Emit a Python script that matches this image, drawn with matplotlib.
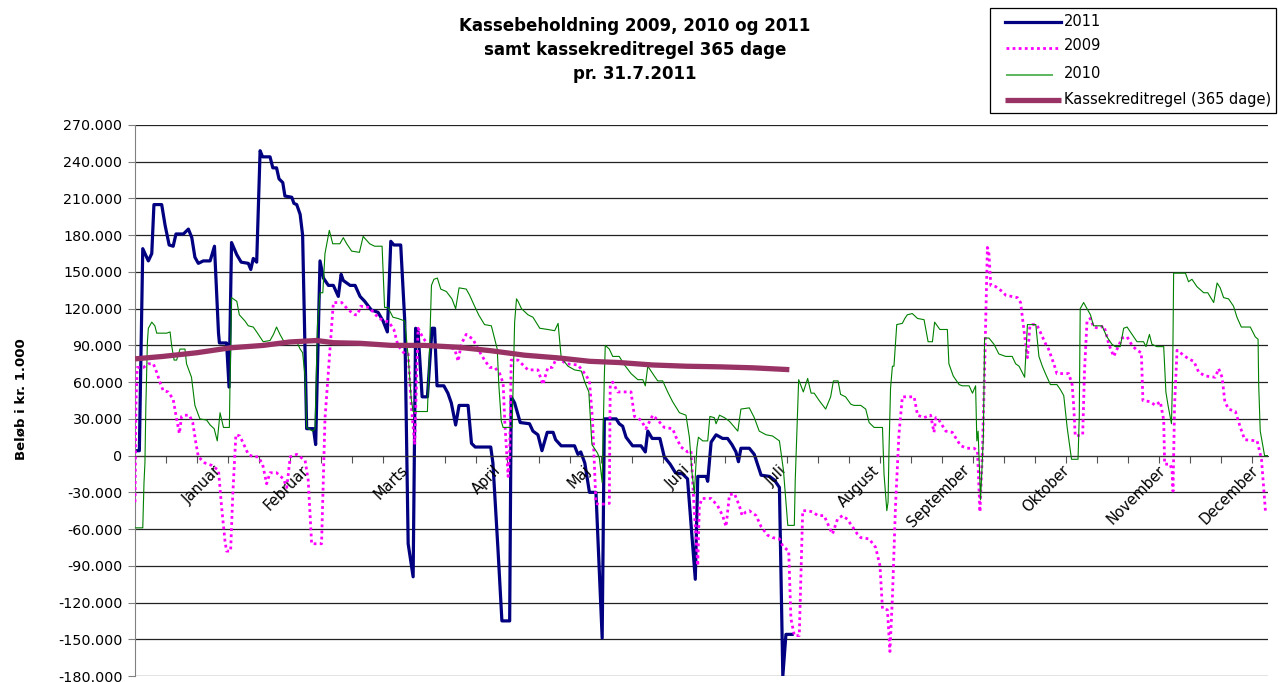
import matplotlib
matplotlib.use('Agg')
import matplotlib.pyplot as plt
import matplotlib.transforms as mtransforms
from matplotlib.lines import Line2D
from matplotlib.patches import Rectangle
from matplotlib.ticker import FuncFormatter, MultipleLocator

# kassebeholdning (day of year, kr. 1.000)
days_2011 = [0, 1.4, 2.5, 4.3, 5.4, 6.1, 8.6, 9.7, 11, 12.3,
             13.2, 15.6, 17.2, 18.3, 19.3, 20.4, 22, 24.2, 25.6, 26.9,
             27.2, 29.5, 30.3, 31.1, 32.8, 34.2, 36.5, 37.3, 38.1, 39.2,
             40.3, 41.1, 43.5, 44.4, 45.6, 46.4, 47.6, 48.3, 50.5, 51.2,
             52.1, 53.2, 54, 55.3, 57.5, 58.2, 59.6, 60.7, 62.3, 63.9,
             65.5, 66.4, 67.1, 69.3, 70.9, 72.5, 74, 76.1, 78.3, 79.9,
             81.3, 82.4, 83.4, 85.6, 86.9, 88, 89.6, 90.4, 91.2, 92.5,
             94.2, 95.7, 96.5, 97.3, 99.5, 100.8, 101.9, 103.3, 104.4, 107.3,
             108.4, 109.6, 114.6, 115.3, 116.9, 118.2, 120.7, 121.2, 122.3, 124.1,
             127.1, 128.2, 129.8, 131.1, 132.8, 134.7, 135.5, 137.3, 141.6, 142.7,
             143.6, 144.9, 146.4, 148.5, 150.5, 151.2, 155, 156, 157.1, 158.2,
             160.3, 163, 164.4, 165.2, 166.6, 169.1, 170.5, 172.4, 174.1, 176.4,
             178, 180.5, 181.3, 184, 184.5, 185.6, 187.2, 189.3, 190.9, 192.3,
             193.6, 194.4, 195.2, 197.9, 199.5, 200.9, 201.7, 204.4, 206, 207.6,
             208.7, 209.7, 211.7]
kasse_2011 = [4, 4, 169, 159, 165, 205, 205, 188, 172, 171,
              181, 181, 185, 178, 162, 157, 159, 159, 171, 100,
              92, 92, 56, 174, 164, 158, 157, 152, 161, 158,
              249, 244, 244, 235, 235, 226, 223, 212, 211, 206,
              205, 197, 180, 22, 22, 9, 159, 145, 139, 139,
              130, 148, 143, 139, 139, 130, 126, 119, 117, 110,
              101, 175, 172, 172, 110, -72, -99, 104, 101, 48,
              48, 104, 104, 57, 57, 51, 43, 25, 41, 41,
              10, 7, 7, -6, -75, -135, -135, 48, 43, 27,
              26, 20, 17, 4, 19, 19, 13, 8, 8, 1,
              3, -6, -30, -30, -149, 30, 30, 26, 24, 15,
              8, 8, 3, 20, 14, 14, -1, -7, -14, -15,
              -19, -101, -17, -17, -21, 11, 17, 14, 14, 9,
              3, -5, 6, 6, 1, -10, -16, -17, -20, -26,
              -180, -146, -146]

days_2009 = [0, 0.3, 0.7, 2.7, 4.3, 5.9, 7, 8.3, 9.1, 10.7,
             12.3, 13.4, 14.3, 15, 15.8, 17.5, 18.6, 19.7, 20.4, 22.5,
             24.7, 26.9, 27.9, 29, 29.5, 30.8, 31.5, 32.5, 33.8, 34.9,
             36.5, 38.1, 39.7, 41.1, 42.4, 43.5, 45.6, 47.8, 48.9, 50,
             52.1, 53.2, 54.8, 55.8, 56.9, 60.1, 61.2, 62.8, 63.9, 66.6,
             68.7, 70.9, 71.7, 72.7, 75.4, 78.6, 81.8, 83.4, 84.7, 86.9,
             88, 89, 90.1, 91.2, 92.8, 94.4, 96.5, 98.7, 100.8, 103,
             104.1, 105.1, 106.7, 108.9, 110.5, 112.6, 114.3, 115.9, 117.5, 118.6,
             119.1, 120.2, 120.7, 121.2, 123.4, 125, 126.6, 129.8, 131.4, 133,
             134.4, 135.7, 137.3, 138.9, 142.7, 144.9, 146.4, 147.4, 148.5, 149.6,
             152.8, 153.1, 153.9, 155.5, 159.8, 160.9, 163, 164.6, 166.8, 168.4,
             170.5, 173.2, 174.3, 175.9, 178, 179.1, 180.2, 181.3, 181.8, 182.7,
             185.6, 187.7, 189.3, 190.4, 191.5, 193.1, 194.7, 195.6, 196.8, 197.9,
             200.1, 201.7, 203.8, 205.4, 207.6, 208.7, 210.6, 211.3, 212.4, 214,
             215.1, 216.7, 218.3, 220, 222, 224.1, 224.7, 226.3, 227.9, 229.5,
             232.7, 233.8, 236.5, 238.6, 240, 240.8, 242.4, 243.2, 244, 245,
             246.1, 247.2, 251, 252.1, 254.2, 256.3, 257.4, 258, 259, 261.2,
             263.3, 266, 268.1, 270.3, 271.4, 272.2, 273, 273.7, 274.4, 274.6,
             275.1, 275.7, 277.3, 279.4, 280.5, 284.3, 285.3, 286.4, 287.5, 288.3,
             289.1, 290.5, 291.8, 293.4, 294.3, 296, 297, 300.8, 301.9, 302.4,
             302.9, 305.3, 305.9, 306.7, 307.8, 308.8, 310.5, 312.1, 312.6, 313.7,
             315.3, 316.9, 318, 319.6, 321.2, 322.8, 324.2, 324.7, 327.1, 328.7,
             330.3, 331.4, 331.7, 333.5, 334.1, 334.4, 334.9, 335.7, 337.3, 339.4,
             341.1, 342.7, 344.8, 348, 349.1, 350.2, 351.1, 352.3, 354.5, 356.1,
             357.5, 361.5, 362.9, 364.2]
kasse_2009 = [-38, 41, 72, 72, 75, 75, 68, 58, 53, 52,
              46, 30, 18, 32, 33, 33, 27, 9, -1, -6,
              -8, -12, -42, -70, -78, -78, -32, 17, 16, 10,
              1, -1, -1, -7, -23, -14, -14, -19, -26, -1,
              1, -1, -4, -20, -72, -72, 30, 87, 125, 125,
              119, 115, 115, 122, 121, 112, 109, 103, 90, 83,
              83, 41, 9, 104, 96, 91, 90, 90, 89, 87,
              77, 91, 99, 95, 87, 78, 72, 72, 67, 59,
              29, -17, 0, 78, 78, 74, 70, 70, 58, 72,
              72, 79, 78, 75, 74, 67, 61, 29, -39, -40,
              -39, 58, 60, 52, 52, 32, 29, 22, 33, 29,
              23, 22, 15, 7, 3, 4, -46, -90, -41, -35,
              -35, -41, -49, -58, -32, -31, -41, -49, -46, -45,
              -49, -58, -65, -67, -68, -74, -78, -133, -147, -147,
              -45, -45, -46, -49, -49, -61, -64, -52, -49, -52,
              -64, -67, -68, -75, -90, -125, -126, -160, -116, -41,
              17, 48, 48, 33, 31, 33, 19, 31, 29, 20,
              19, 8, 6, 6, 4, -46, 3, 70, 151, 170,
              165, 139, 138, 134, 131, 129, 125, 102, 80, 106,
              107, 107, 100, 91, 87, 75, 67, 67, 58, 41,
              16, 17, 70, 110, 112, 105, 104, 106, 102, 91,
              81, 90, 96, 97, 90, 86, 84, 45, 44, 41,
              44, 29, -7, -7, -13, -29, 41, 86, 83, 79,
              77, 68, 65, 64, 71, 64, 44, 38, 36, 23,
              13, 12, -3, -46]

days_2010 = [0, 2.5, 2.9, 3.2, 3.5, 4, 4.3, 5.4, 6.4, 7,
             10.2, 11.3, 11.8, 12.6, 13.4, 14.5, 16.1, 16.6, 18.2, 19.3,
             20.9, 23.1, 24.2, 25.5, 26.5, 27.4, 28.5, 30.4, 30.6, 31.1,
             32.8, 33.6, 35.4, 36.5, 38.1, 39.2, 40.5, 41.3, 43.5, 44.6,
             45.6, 46.7, 47.8, 52.1, 53.2, 54, 54.8, 55.3, 57.2, 58,
             58.8, 59.6, 60.5, 61.2, 62.6, 63.7, 66, 67.1, 68.2, 69.8,
             72.3, 73.5, 75.6, 77.2, 79.6, 80.2, 80.4, 81.5, 83.1, 84.7,
             86.9, 88, 89, 89.6, 94.2, 94.9, 95.5, 96.3, 97.4, 98.5,
             100.3, 102.1, 103.3, 104.4, 106.7, 107.8, 109.4, 110.7, 112.6, 114.8,
             116.7, 117.2, 118, 118.6, 121.5, 122.3, 122.9, 123.4, 124.5, 126.6,
             128.2, 130.4, 133, 135.2, 136.3, 137.3, 139.5, 141.6, 143.8, 144.9,
             146.2, 146.9, 147.2, 149, 149.6, 150.5, 150.9, 151.2, 151.5, 152.8,
             153.9, 156, 157.7, 159.8, 162, 163.6, 164.4, 165.2, 167.3, 168.4,
             170, 171.6, 173.2, 175.4, 177.5, 178.6, 179.4, 180.2, 181, 181.5,
             182.9, 184.5, 185.2, 186.6, 187.2, 188.3, 189.9, 191.5, 194.2, 195.2,
             197.9, 199.5, 201.1, 203.3, 205.4, 207.6, 208.9, 210.3, 212.4, 212.7,
             213.2, 213.8, 215.3, 216.7, 217.8, 218.8, 220.4, 222.5, 224.1, 225,
             226.5, 227.3, 228.9, 230.6, 231.6, 233.8, 235.4, 236.5, 238.1, 240.8,
             241.3, 242.2, 242.6, 242.9, 243.4, 244, 244.5, 245.4, 247.2, 248,
             248.8, 250.4, 252.1, 254.2, 255.5, 256.9, 257.6, 259.3, 261.7, 262.2,
             263.6, 265.5, 266.5, 268.7, 269.8, 270.8, 271.2, 271.6, 272.4, 273.3,
             273.7, 275.1, 276.7, 278.3, 280.5, 282.6, 283.7, 284.8, 286.6, 287.5,
             290.2, 291.2, 292.3, 293.3, 294.9, 297, 298.1, 299.2, 300.3, 301.7,
             303.8, 304.2, 304.5, 305.6, 307.8, 308.8, 311.5, 313.1, 314.7, 315.8,
             317.4, 318.5, 319.6, 321.2, 322.8, 324.9, 325.7, 326.8, 327.6, 329.2,
             331.4, 332.1, 332.8, 333.9, 334.3, 334.6, 338.4, 339.4, 340.5, 342.1,
             344.3, 345.6, 347.5, 348.6, 349.6, 350.7, 352.3, 353.9, 355, 356.4,
             359.3, 360.9, 361.8, 362, 362.5, 363.9, 364.9]
kasse_2010 = [-59, -59, -22, -6, 41, 93, 104, 109, 106, 100,
              100, 101, 90, 78, 78, 87, 87, 75, 64, 41,
              30, 29, 25, 22, 12, 35, 23, 23, 58, 129,
              126, 115, 110, 106, 105, 101, 96, 93, 94, 99,
              105, 99, 94, 93, 87, 84, 64, 23, 20, 22,
              107, 133, 133, 165, 184, 173, 173, 178, 173, 167,
              166, 179, 173, 171, 171, 133, 121, 121, 113, 112,
              110, 81, 46, 36, 36, 87, 139, 144, 145, 136,
              134, 128, 120, 137, 136, 131, 122, 115, 107, 106,
              87, 58, 28, 23, 23, 109, 128, 126, 120, 115,
              113, 104, 103, 102, 108, 80, 73, 70, 69, 60,
              52, 22, 9, 2, -2, -22, 26, 65, 90, 87,
              81, 81, 74, 67, 62, 62, 57, 73, 65, 61,
              61, 52, 44, 35, 33, 15, -13, -31, 6, 15,
              12, 12, 32, 31, 26, 33, 31, 28, 20, 38,
              39, 31, 20, 17, 16, 12, -12, -57, -57, -20,
              17, 62, 52, 63, 51, 51, 45, 38, 48, 61,
              61, 50, 48, 42, 41, 41, 38, 27, 23, 23,
              -15, -45, -38, 4, 55, 73, 73, 107, 108, 112,
              115, 116, 112, 111, 93, 93, 109, 103, 103, 75,
              65, 58, 57, 57, 51, 57, 12, 20, -36, 15,
              96, 96, 91, 83, 81, 81, 75, 73, 64, 107,
              107, 81, 73, 67, 58, 58, 54, 49, 23, -3,
              -3, 32, 120, 125, 115, 106, 106, 97, 91, 89,
              89, 104, 105, 99, 93, 93, 89, 99, 91, 89,
              89, 52, 41, 26, 70, 149, 149, 142, 144, 138,
              133, 133, 125, 141, 137, 129, 128, 122, 113, 105,
              105, 97, 95, 58, 20, 0, 0]

days_regel = [0, 9, 19.9, 30.6, 41.3, 49.9, 58.5, 63.9, 72.5, 82.6,
              93.3, 104.1, 114.8, 125.5, 136.3, 146.5, 156, 166.8, 177.5, 188.3,
              199, 210.8]
kassekreditregel = [79, 81, 84, 88, 90, 92.8, 94, 92.2, 91.7, 90,
                    90, 88.5, 85.6, 82, 79.8, 77, 76, 74, 73, 72.5,
                    71.7, 70.2]

months = ['Januar', 'Februar', 'Marts', 'April', 'Maj', 'Juni', 'Juli',
          'August', 'September', 'Oktober', 'November', 'December']
month_pos = [27, 55, 87, 117, 146, 178, 209, 239, 268, 300, 331, 361]

series = [('2011', days_2011, kasse_2011, dict(color='#000080', lw=2.3)),
          ('2009', days_2009, kasse_2009, dict(color='#ff00ff', lw=2.0, ls=(0, (1, 1.2)))),
          ('2010', days_2010, kasse_2010, dict(color='#008000', lw=0.8)),
          ('Kassekreditregel (365 dage)', days_regel, kassekreditregel,
           dict(color='#993366', lw=3.8, solid_capstyle='butt'))]


def k(vals):
    # chart is in kr. 1.000
    return [v * 1000 for v in vals]


W, H = 1278, 682
fig = plt.figure(figsize=(W / 100, H / 100), dpi=100)
ax = fig.add_axes([135 / W, 1 - 676 / H, 1133 / W, 551 / H])

for z, (name, d, v, style) in enumerate(series):
    ax.plot(d, k(v), label=name, zorder=2 + z, **style)

ax.set_xlim(0, 365)
ax.set_ylim(-180000, 270000)
ax.yaxis.set_major_locator(MultipleLocator(30000))
ax.yaxis.set_major_formatter(FuncFormatter(lambda v, p: f"{v:,.0f}".replace(',', '.')))
ax.grid(axis='y', color='#222222', lw=0.9)
ax.set_axisbelow(True)

for s in ['top', 'right']:
    ax.spines[s].set_visible(False)
ax.spines['left'].set_color('#808080')
ax.spines['bottom'].set_position(('data', 0))
ax.spines['bottom'].set_color('#333333')
ax.xaxis.set_major_locator(MultipleLocator(10))
ax.tick_params(axis='x', direction='out', length=5, color='#555555', labelbottom=False)
ax.tick_params(axis='y', direction='out', length=5, color='#808080', labelsize=10.3,
               pad=4)

# month names sit on the zero line, rotated like in Excel
off = mtransforms.offset_copy(ax.transData, fig=fig, x=-5, y=-7, units='dots')
for m, d in zip(months, month_pos):
    ax.text(d, 0, m, transform=off, rotation=45, rotation_mode='anchor',
            ha='right', va='top', fontsize=10.5)

ax.set_ylabel('Beløb i kr. 1.000', fontsize=9.5, fontweight='bold')
ax.yaxis.set_label_coords(-0.095, 0.502)

fig.text(635 / W, 1 - 17 / H,
         'Kassebeholdning 2009, 2010 og 2011\nsamt kassekreditregel 365 dage\npr. 31.7.2011',
         ha='center', va='top', fontsize=12, fontweight='bold', linespacing=1.42)

# legend box drawn by hand to get Excel's spacing
def px(x, y):
    return x / W, 1 - y / H

x0, y0 = px(990, 113)
x1, y1 = px(1276, 8)
fig.patches.append(Rectangle((x0, y0), x1 - x0, y1 - y0, transform=fig.transFigure,
                             facecolor='white', edgecolor='black', lw=0.9, zorder=10))
handle_x = [(1005, 1061), (1006, 1058), (1007, 1052), (1005, 1061)]
row_y = [22, 47.5, 74.5, 99.5]
text_y = [21, 46, 73.5, 99.5]
for (name, d, v, style), (hx0, hx1), ly, ty in zip(series, handle_x, row_y, text_y):
    st = dict(style)
    if name == '2010':
        st['color'] = '#5cb85c'
        st['lw'] = 1.4
    a, b = px(hx0, ly)
    c, _ = px(hx1, ly)
    fig.lines.append(Line2D([a, c], [b, b], transform=fig.transFigure, zorder=11, **st))
    tx, tyf = px(1064, ty)
    fig.text(tx, tyf, name, fontsize=10.5, ha='left', va='center', zorder=12)

plt.savefig('out.png', dpi=100)
